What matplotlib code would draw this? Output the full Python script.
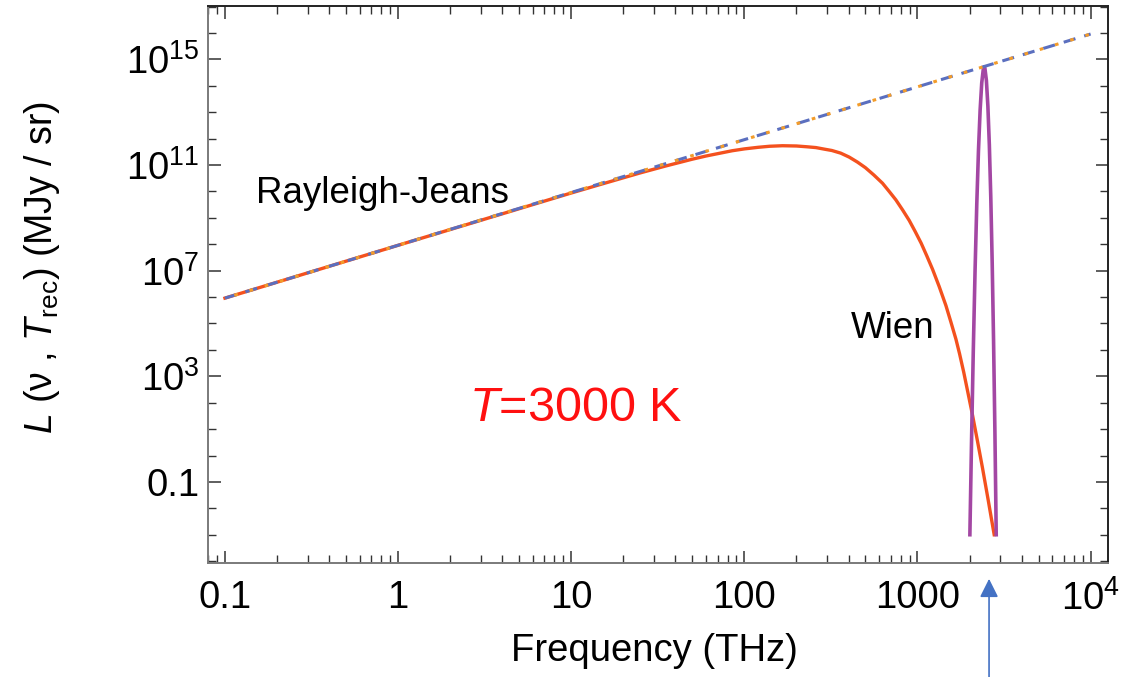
import numpy as np
import matplotlib
matplotlib.use('Agg')
import matplotlib.pyplot as plt
from matplotlib.ticker import FixedLocator, LogLocator, NullFormatter

plt.rcParams['font.family'] = ['Liberation Sans', 'DejaVu Sans']
plt.rcParams['mathtext.fontset'] = 'custom'
plt.rcParams['mathtext.rm'] = 'Liberation Sans'
plt.rcParams['mathtext.it'] = 'Liberation Sans:italic'
plt.rcParams['mathtext.bf'] = 'Liberation Sans:bold'

# Data (frequency in THz, log10 of L in MJy/sr)
rj_nu = [0.1, 1e4]
rj_logL = [5.96, 15.96]

planck_nu = [0.1, 1, 10, 14.5, 25, 35, 50, 60, 85, 100, 120, 140, 166, 200, 230,
             259, 290, 320, 360, 403, 450, 500, 560, 628, 690, 750, 820, 896, 970,
             1050, 1130, 1222, 1334, 1459, 1560, 1668, 1750, 1850, 1950, 2080,
             2220, 2375, 2550, 2773]
planck_logL = [5.96, 7.96, 9.94, 10.25, 10.70, 10.96, 11.22, 11.34, 11.54, 11.61,
               11.67, 11.71, 11.73, 11.72, 11.69, 11.66, 11.60, 11.55, 11.45, 11.30,
               11.11, 10.90, 10.62, 10.31, 9.98, 9.68, 9.30, 8.90, 8.48, 8.04, 7.57,
               7.05, 6.40, 5.68, 5.05, 4.40, 3.85, 3.15, 2.42, 1.52, 0.55, -0.48,
               -1.62, -3.0]

wien_nu = [2007, 2050, 2100, 2150, 2200, 2250, 2300, 2350, 2400, 2428, 2450, 2500,
           2550, 2600, 2650, 2700, 2750, 2800, 2849]
wien_logL = [-3.0, 0.42, 3.96, 6.99, 9.52, 11.55, 13.08, 14.11, 14.64, 14.72, 14.67,
             14.20, 13.23, 11.76, 9.79, 7.32, 4.35, 0.88, -3.0]

x_ticks = [0.1, 1, 10, 100, 1000, 1e4]
x_ticklabels = ['0.1', '1', '10', '100', '1000', '$10^{4}$']
y_ticks = [0.1, 1e3, 1e7, 1e11, 1e15]
y_ticklabels = ['0.1', '$10^{3}$', '$10^{7}$', '$10^{11}$', '$10^{15}$']

arrow_nu = 2590

fig = plt.figure(figsize=(11.23, 6.77), dpi=100)
ax = fig.add_axes([0.1852, 0.1684, 0.8014, 0.8227])

# Planck curve
ax.plot(planck_nu, 10 ** np.array(planck_logL), color='#F4511E', lw=2.4, zorder=2)
# Wien peak
ax.plot(wien_nu, 10 ** np.array(wien_logL), color='#A347A3', lw=2.6, zorder=3)
# Rayleigh-Jeans lines (blue dashed + orange dotted)
ax.plot(rj_nu, 10 ** np.array(rj_logL), color='#5B6FBF', lw=2.2,
        linestyle=(0, (4, 3)), zorder=4)
ax.plot(rj_nu, 10 ** np.array(rj_logL), color='#F39C2A', lw=2.2,
        linestyle=(2, (1.2, 4)), zorder=5)

ax.set_xscale('log')
ax.set_yscale('log')
ax.set_xlim(0.0798, 12590)
ax.set_ylim(10 ** -4.07, 10 ** 17.02)

ax.xaxis.set_major_locator(FixedLocator(x_ticks))
ax.set_xticklabels(x_ticklabels)
ax.xaxis.set_minor_locator(LogLocator(base=10, subs=np.arange(2, 10)))
ax.xaxis.set_minor_formatter(NullFormatter())

ax.yaxis.set_major_locator(FixedLocator(y_ticks))
ax.set_yticklabels(y_ticklabels)
ax.yaxis.set_minor_locator(FixedLocator([10.0 ** k for k in range(-4, 18)]))
ax.yaxis.set_minor_formatter(NullFormatter())

ax.tick_params(which='both', direction='in', top=True, right=True,
               labelsize=27.5, color='#333333')
ax.tick_params(which='major', length=9, width=1.1)
ax.tick_params(which='minor', length=6, width=1.0)
ax.tick_params(axis='x', pad=12)
ax.tick_params(axis='y', pad=6)

for side in ['left', 'bottom']:
    ax.spines[side].set_color('#7a7a7a')
for side in ['top', 'right']:
    ax.spines[side].set_color('#222222')
for s in ax.spines.values():
    s.set_linewidth(1.4)

ax.set_xlabel('Frequency (THz)', fontsize=27.5)
ax.xaxis.set_label_coords(0.496, -0.126)
ax.xaxis.label.set_va('top')
ax.set_ylabel(r'$L$ (ν , $T_{\rm rec}$) (MJy / sr)', fontsize=27)
ax.yaxis.set_label_coords(-0.162, 0.53)

ax.text(0.151, 10 ** 9.56, 'Rayleigh-Jeans', fontsize=26.5, ha='left', va='baseline')
ax.text(412, 10 ** 4.44, 'Wien', fontsize=26.5, ha='left', va='baseline')
ax.text(2.57, 10 ** 1.3, r'$T$=3000 K', fontsize=35, color='#FF1010',
        ha='left', va='baseline')

ax.annotate('', xy=(arrow_nu, 0.145), xycoords=('data', 'figure fraction'),
            xytext=(arrow_nu, 0.0), textcoords=('data', 'figure fraction'),
            arrowprops=dict(arrowstyle='-|>', color='#4472C4', lw=1.2,
                            mutation_scale=28, shrinkA=0, shrinkB=0),
            annotation_clip=False)

fig.savefig('out.png', dpi=100)
